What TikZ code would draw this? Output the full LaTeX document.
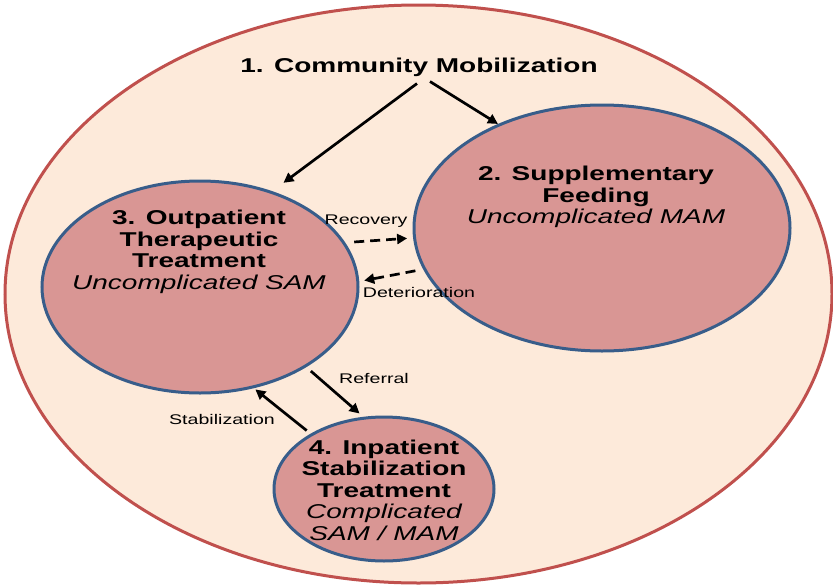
\documentclass[tikz,border=0pt]{standalone}
\usepackage{fontspec}
\setmainfont{Liberation Sans}[FakeStretch=1.4]
\usetikzlibrary{shapes.geometric,arrows.meta}
\definecolor{peach}{RGB}{253,234,218}
\definecolor{outerred}{RGB}{192,80,77}
\definecolor{rose}{RGB}{217,150,148}
\definecolor{ringblue}{RGB}{56,93,138}

\begin{document}
\begin{tikzpicture}[x=1pt,y=-1pt,
        comp/.style={ellipse, draw=ringblue, fill=rose, line width=3pt, inner sep=0pt},
        txt/.style={align=center, inner sep=0pt, font=\fontsize{20}{21.5}\selectfont\bfseries},
        lbl/.style={inner sep=0pt, font=\fontsize{14}{16}\selectfont},
        link/.style={line width=2.7pt, -{Triangle[length=10pt,width=10pt]}},
        swap/.style={link, dash pattern=on 10pt off 6pt}]
        \useasboundingbox (0,0) rectangle (833,584);
        \node (n0) [ellipse, draw=outerred, fill=peach, line width=3pt, minimum width=827pt, minimum height=578pt] at (418.5,294) {};
        \node (n2) [comp, minimum width=376pt, minimum height=246pt] at (602,228) {};
        \node (n3) [comp, minimum width=316pt, minimum height=212pt] at (200,287) {};
        \node (n4) [comp, minimum width=220pt, minimum height=144pt] at (384,489) {};
        % texts
        \node (n1) [txt] at (419,67) {1. Community Mobilization};
        \node (t2) [txt] at (596,197) {2. Supplementary\\Feeding\\{\mdseries\itshape Uncomplicated MAM}};
        \node (t3) [txt] at (199,252) {3. Outpatient\\Therapeutic\\Treatment\\{\mdseries\itshape Uncomplicated SAM}};
        \node (t4) [txt] at (384,490) {4. Inpatient\\Stabilization\\Treatment\\{\mdseries\itshape Complicated}\\{\mdseries\itshape SAM / MAM}};
        \node (l1) [lbl] at (366,221) {Recovery};
        \node (l2) [lbl] at (419,292) {Deterioration};
        \node (l3) [lbl] at (374,378) {Referral};
        \node (l4) [lbl] at (222,419) {Stabilization};
        % arrows
        \draw[link] ([shift={(11,5)}]n1.south) -- (n2.135);
        \draw[link, shorten >=14pt] ([shift={(-2,7)}]n1.south) -- (n3.53);
        \draw[swap, shorten <=9pt, shorten >=6pt] (n3.17) -- (n2.183);
        \draw[swap, shorten <=8pt, shorten >=5pt] (n2.193) -- (n3.2.5);
        \draw[link, shorten <=6pt, shorten >=5pt] (n3.-37.6) -- (n4.106);
        \draw[link, shorten <=5pt, shorten >=2pt] (n4.143.5) -- (n3.-62);
\end{tikzpicture}
\end{document}
